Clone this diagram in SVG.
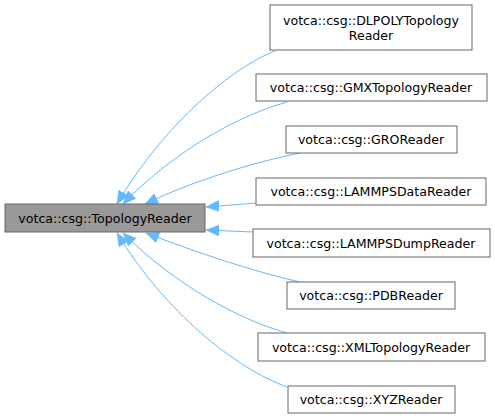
<svg xmlns="http://www.w3.org/2000/svg" width="495" height="419" viewBox="0 0 495 419">
<style>
.n rect{fill:#ffffff;stroke:#666666;stroke-width:1}
#main rect{fill:#999999}
.n text{font-family:"DejaVu Sans",sans-serif;font-size:12.6px;fill:#000000;text-anchor:middle}
.e path{fill:none;stroke:#63b8ff;stroke-width:1}
</style>
<defs>
<marker id="ah" markerUnits="userSpaceOnUse" markerWidth="14" markerHeight="12" refX="13" refY="5.5" orient="auto">
<path d="M0,0 L13,5.5 L0,11 z" fill="#63b8ff" stroke="#63b8ff" stroke-width="0.5"/>
</marker>
</defs>
<g id="edges" class="e">
<path d="M275,51 C235,66 165,122 117,204" marker-end="url(#ah)"/>
<path d="M287,102 C240,115 175,150 123,204" marker-end="url(#ah)"/>
<path d="M300,153 C255,162 195,180 145,204" marker-end="url(#ah)"/>
<path d="M257,203 L206,207" marker-end="url(#ah)"/>
<path d="M253,232 L206,230" marker-end="url(#ah)"/>
<path d="M300,282 C255,272 195,252 146,233" marker-end="url(#ah)"/>
<path d="M287,333 C240,320 175,285 123,233" marker-end="url(#ah)"/>
<path d="M287,387 C235,368 165,312 117,233" marker-end="url(#ah)"/>
</g>
<g id="main" class="n"><rect x="5" y="204" width="200" height="28"/><text x="105" y="222.5">votca::csg::TopologyReader</text></g>
<g id="dlpoly" class="n"><rect x="270" y="5" width="202" height="45"/><text x="371" y="24.5">votca::csg::DLPOLYTopology</text><text x="371" y="39.5">Reader</text></g>
<g id="gmx" class="n"><rect x="256" y="74" width="231" height="27"/><text x="371" y="92">votca::csg::GMXTopologyReader</text></g>
<g id="gro" class="n"><rect x="286" y="126" width="171" height="27"/><text x="371" y="144">votca::csg::GROReader</text></g>
<g id="ldata" class="n"><rect x="256" y="178" width="230" height="27"/><text x="371" y="196">votca::csg::LAMMPSDataReader</text></g>
<g id="ldump" class="n"><rect x="253" y="229" width="237" height="28"/><text x="371" y="247.5">votca::csg::LAMMPSDumpReader</text></g>
<g id="pdb" class="n"><rect x="287" y="282" width="168" height="27"/><text x="371" y="300">votca::csg::PDBReader</text></g>
<g id="xml" class="n"><rect x="258" y="333" width="227" height="28"/><text x="371" y="351.5">votca::csg::XMLTopologyReader</text></g>
<g id="xyz" class="n"><rect x="288" y="386" width="167" height="27"/><text x="371" y="404">votca::csg::XYZReader</text></g>
</svg>
